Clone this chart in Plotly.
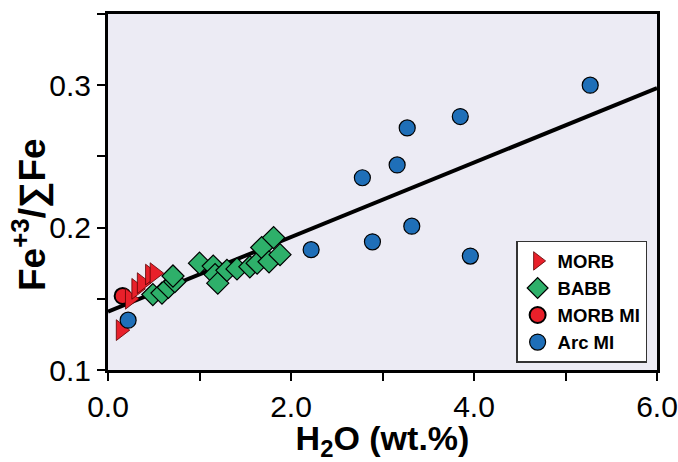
import plotly.graph_objects as go

# MORB (triangles)
morb_x = [0.14, 0.24, 0.31, 0.37, 0.46, 0.51]
morb_y = [0.128, 0.150, 0.157, 0.161, 0.167, 0.168]

# BABB (diamonds)
babb_x = [0.49, 0.59, 0.66, 0.73, 0.71, 1.00, 1.15, 1.17, 1.20, 1.30, 1.41, 1.55, 1.63, 1.68, 1.76, 1.81, 1.88]
babb_y = [0.153, 0.154, 0.158, 0.162, 0.166, 0.175, 0.173, 0.167, 0.161, 0.170, 0.171, 0.1725, 0.175, 0.186, 0.176, 0.193, 0.181]

# MORB MI (red circles)
morbmi_x = [0.16]
morbmi_y = [0.152]

# Arc MI (blue circles)
arc_x = [5.27, 3.85, 3.27, 3.16, 2.78, 3.32, 2.89, 2.22, 3.96, 0.22]
arc_y = [0.300, 0.278, 0.270, 0.244, 0.235, 0.201, 0.190, 0.1845, 0.180, 0.135]

# regression line
fit_x = [0.0, 6.0]
fit_y = [0.141, 0.298]

RED = "#E8202A"
GREEN = "#2EB06A"
BLUE = "#1F6FB8"
BG = "#ECEBF4"
FONT = "Liberation Sans, Arial, sans-serif"

fig = go.Figure()
fig.add_trace(go.Scatter(x=fit_x, y=fit_y, mode="lines",
                         line=dict(color="black", width=4), showlegend=False, hoverinfo="skip"))
fig.add_trace(go.Scatter(x=babb_x, y=babb_y, mode="markers", name="BABB", legendrank=2,
                         marker=dict(symbol="diamond", size=17, color=GREEN,
                                     line=dict(color="black", width=1.2))))
fig.add_trace(go.Scatter(x=morbmi_x, y=morbmi_y, mode="markers", name="MORB MI", legendrank=3,
                         marker=dict(symbol="circle", size=16, color=RED,
                                     line=dict(color="black", width=2))))
fig.add_trace(go.Scatter(x=morb_x, y=morb_y, mode="markers", name="MORB", legendrank=1,
                         marker=dict(symbol="triangle-right", size=18, color=RED,
                                     line=dict(color="#5a0000", width=0.8))))
fig.add_trace(go.Scatter(x=arc_x, y=arc_y, mode="markers", name="Arc MI", legendrank=4,
                         marker=dict(symbol="circle", size=16, color=BLUE,
                                     line=dict(color="black", width=1.2))))

fig.add_annotation(text="Fe<sup>+3</sup>/∑Fe", textangle=-90, showarrow=False,
                   xref="paper", yref="paper", x=(30 - 108) / 549, y=(370 - 215) / 356,
                   xanchor="center", yanchor="middle",
                   font=dict(size=37, family=FONT, color="black", weight="bold"))

fig.update_layout(
    width=678, height=462,
    margin=dict(l=108, r=21, t=14, b=92, autoexpand=False),
    paper_bgcolor="white", plot_bgcolor=BG,
    font=dict(family=FONT, color="black"),
    legend=dict(x=0.982, y=0.02, xanchor="right", yanchor="bottom",
                bgcolor="white", bordercolor="#333333", borderwidth=1.5,
                font=dict(family=FONT, size=18.5, color="black", weight="bold"),
                tracegroupgap=0, itemwidth=30),
    xaxis=dict(range=[0, 6], tick0=0, dtick=2, tickformat=".1f", automargin=False,
               ticks="outside", ticklen=8, tickwidth=2, tickcolor="black",
               minor=dict(dtick=1, ticks="outside", ticklen=8, tickwidth=2, tickcolor="black", showgrid=False),
               showline=True, linecolor="black", linewidth=3, mirror=True,
               showgrid=False, zeroline=False,
               tickfont=dict(size=30, family=FONT),
               title=dict(text="H<sub>2</sub>O (wt.%)", font=dict(size=34, family=FONT, weight="bold"),
                          standoff=8)),
    yaxis=dict(range=[0.1, 0.35], tick0=0.1, dtick=0.1, tickformat=".1f", automargin=False,
               ticks="outside", ticklen=8, tickwidth=2, tickcolor="black",
               minor=dict(dtick=0.05, ticks="outside", ticklen=8, tickwidth=2, tickcolor="black", showgrid=False),
               showline=True, linecolor="black", linewidth=3, mirror=True,
               showgrid=False, zeroline=False,
               tickfont=dict(size=30, family=FONT)),
)

fig.write_html("out.html")
